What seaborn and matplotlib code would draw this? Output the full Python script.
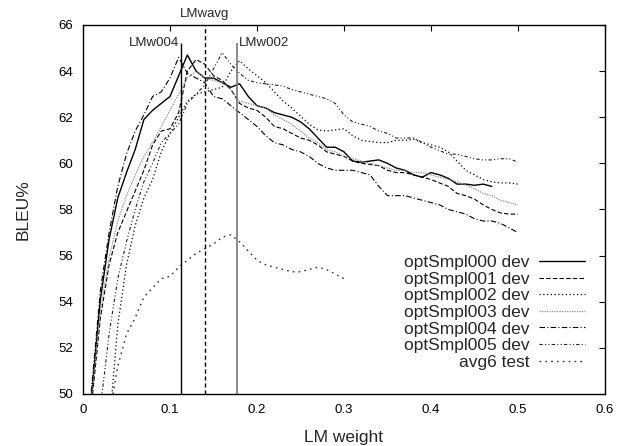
import numpy as np
import pandas as pd
import matplotlib
matplotlib.use("Agg")
import matplotlib.pyplot as plt
import seaborn as sns

# LM weight grid (dev runs go 0 .. 0.5, test run 0.03 .. 0.3)
lm_weight = np.round(np.arange(0, 0.501, 0.01), 2)
lm_weight_test = np.round(np.arange(0.03, 0.301, 0.01), 2)

bleu_000 = [47.0, 50.0, 54.1, 56.7, 58.5, 59.6, 60.6, 61.9, 62.3, 62.6,
            62.9, 63.8, 64.7, 64.0, 63.7, 63.7, 63.5, 63.3, 63.45, 62.9,
            62.5, 62.4, 62.2, 62.1, 62.0, 61.8, 61.5, 61.1, 60.7, 60.7,
            60.5, 60.1, 60.05, 60.1, 60.15, 60.0, 59.8, 59.7, 59.5, 59.4,
            59.6, 59.5, 59.35, 59.1, 59.1, 59.05, 59.1, 59.0]
bleu_001 = [46.0, 49.6, 53.3, 55.6, 57.0, 57.9, 58.8, 59.7, 60.8, 61.4,
            61.5, 62.2, 64.0, 64.5, 64.3, 63.8, 63.6, 63.2, 62.6, 62.4,
            62.3, 62.0, 61.6, 61.5, 61.3, 61.1, 61.0, 60.8, 60.5, 60.4,
            60.3, 60.1, 60.0, 59.95, 59.9, 59.7, 59.6, 59.6, 59.5, 59.4,
            59.3, 59.15, 59.0, 58.7, 58.6, 58.45, 58.2, 58.0, 57.85, 57.8, 57.8]
bleu_002 = [42.5, 44.5, 46.8, 48.5, 53.0, 55.6, 57.3, 58.5, 59.3, 60.5,
            61.3, 62.0, 62.7, 63.0, 63.1, 63.2, 63.3, 64.0, 64.45, 64.1,
            63.8, 63.5, 63.1, 62.7, 62.4, 62.05, 61.7, 61.45, 61.4, 61.45,
            61.5, 61.2, 61.0, 60.95, 60.9, 60.9, 61.0, 61.0, 61.05, 60.9,
            60.8, 60.7, 60.5, 60.1, 59.7, 59.5, 59.3, 59.2, 59.15, 59.15, 59.1]
bleu_003 = [46.5, 49.9, 53.6, 55.9, 57.5, 58.6, 59.5, 60.3, 60.9, 61.6,
            62.3, 63.0, 63.7, 64.0, 63.7, 63.6, 63.5, 63.2, 62.7, 62.6,
            62.5, 62.4, 62.1, 61.9, 61.7, 61.4, 61.1, 60.9, 60.6, 60.5,
            60.3, 60.2, 60.1, 60.0, 59.9, 59.8, 59.7, 59.7, 59.6, 59.6,
            59.5, 59.4, 59.3, 59.2, 59.05, 58.9, 58.7, 58.6, 58.4, 58.3, 58.2]
bleu_004 = [46.5, 50.3, 54.5, 57.0, 59.0, 60.4, 61.4, 62.1, 62.9, 63.1,
            63.7, 64.6, 63.9, 63.7, 63.5, 62.9, 62.8, 62.5, 62.2, 61.9,
            61.6, 61.2, 60.9, 60.8, 60.6, 60.5, 60.3, 60.0, 59.8, 59.7,
            59.7, 59.7, 59.6, 59.5, 59.0, 58.6, 58.6, 58.6, 58.5, 58.4,
            58.3, 58.2, 58.0, 57.9, 57.8, 57.6, 57.5, 57.5, 57.4, 57.2, 57.0]
bleu_005 = [45.0, 47.5, 49.4, 52.6, 55.0, 56.6, 58.0, 59.2, 60.0, 60.9,
            61.3, 61.7, 62.6, 63.0, 63.4, 64.1, 64.8, 64.3, 63.9, 63.6,
            63.5, 63.45, 63.4, 63.35, 63.2, 63.1, 63.0, 62.9, 62.8, 62.6,
            62.1, 61.8, 61.7, 61.6, 61.4, 61.3, 61.1, 61.1, 61.1, 60.9,
            60.7, 60.55, 60.4, 60.4, 60.3, 60.2, 60.15, 60.15, 60.2, 60.2, 60.05]
bleu_avg6_test = [49.0, 51.2, 52.6, 53.3, 54.2, 54.6, 55.0, 55.1, 55.5, 55.8,
                  56.1, 56.3, 56.5, 56.8, 56.9, 56.6, 56.2, 55.8, 55.6, 55.5,
                  55.4, 55.3, 55.3, 55.4, 55.5, 55.4, 55.2, 55.0]

# chosen LM weights (vertical markers)
marker_names = ['LMw004', 'LMwavg', 'LMw002']
marker_x = [0.113, 0.140, 0.177]
marker_top = [65.2, 66.0, 65.2]

series = [
    ('optSmpl000 dev', lm_weight[:len(bleu_000)], bleu_000, 'black', '-', 1.0),
    ('optSmpl001 dev', lm_weight, bleu_001, 'black', (0, (4, 2)), 0.8),
    ('optSmpl002 dev', lm_weight, bleu_002, 'black', (0, (1, 2)), 0.9),
    ('optSmpl003 dev', lm_weight, bleu_003, '#8c8c8c', (0, (1, 1)), 0.9),
    ('optSmpl004 dev', lm_weight, bleu_004, 'black', (0, (5, 2, 1, 2)), 0.8),
    ('optSmpl005 dev', lm_weight, bleu_005, '#222222', (0, (3, 2, 1, 2, 1, 2)), 0.8),
    ('avg6 test', lm_weight_test, bleu_avg6_test, '#333333', (0, (1.2, 3)), 1.0),
]

sns.set_style("white")
plt.rcParams['font.family'] = ['Liberation Sans', 'DejaVu Sans']
plt.rcParams['axes.edgecolor'] = 'black'
plt.rcParams['axes.linewidth'] = 1.0

fig = plt.figure(figsize=(6.17, 4.46), dpi=100)
ax = fig.add_axes([0.1345, 0.1166, 0.8460, 0.8274])

for name, xs, ys, col, ls, lw in series:
    df = pd.DataFrame({'x': xs, 'y': ys})
    sns.lineplot(data=df, x='x', y='y', ax=ax, color=col, linestyle=ls,
                 linewidth=lw, label=name, estimator=None, sort=False)

# vertical lines for the picked weights
ax.vlines(marker_x[0], 50, marker_top[0], color='black', linewidth=1.0)
ax.vlines(marker_x[1], 50, marker_top[1], color='black', linewidth=1.0,
          linestyle=(0, (3, 2)))
ax.vlines(marker_x[2], 50, marker_top[2], color='#777777', linewidth=1.2)
ax.text(marker_x[0] - 0.002, marker_top[0], marker_names[0], ha='right',
        va='center', fontsize=9.5)
ax.text(marker_x[1], 66.47, marker_names[1], ha='center', va='center',
        fontsize=9.5, clip_on=False)
ax.text(marker_x[2] + 0.002, marker_top[2], marker_names[2], ha='left',
        va='center', fontsize=9.5)

ax.set_xlim(0, 0.6)
ax.set_ylim(50, 66)
ax.set_xticks([0, 0.1, 0.2, 0.3, 0.4, 0.5, 0.6])
ax.set_xticklabels(['0', '0.1', '0.2', '0.3', '0.4', '0.5', '0.6'])
ax.set_yticks(range(50, 67, 2))
ax.tick_params(direction='in', length=4.5, width=0.8, top=True, right=True,
               labelsize=9.5, pad=7, colors='black')
ax.set_xlabel('LM weight', fontsize=12.5, labelpad=10)
ax.set_ylabel('BLEU%', fontsize=12.5, labelpad=20)

leg = ax.legend(loc='lower right', bbox_to_anchor=(0.962, 0.066),
                frameon=False, markerfirst=False, fontsize=12.5,
                handlelength=2.65, handletextpad=0.55, labelspacing=0.08,
                borderaxespad=0, borderpad=0)

fig.savefig('out.png', dpi=100)
